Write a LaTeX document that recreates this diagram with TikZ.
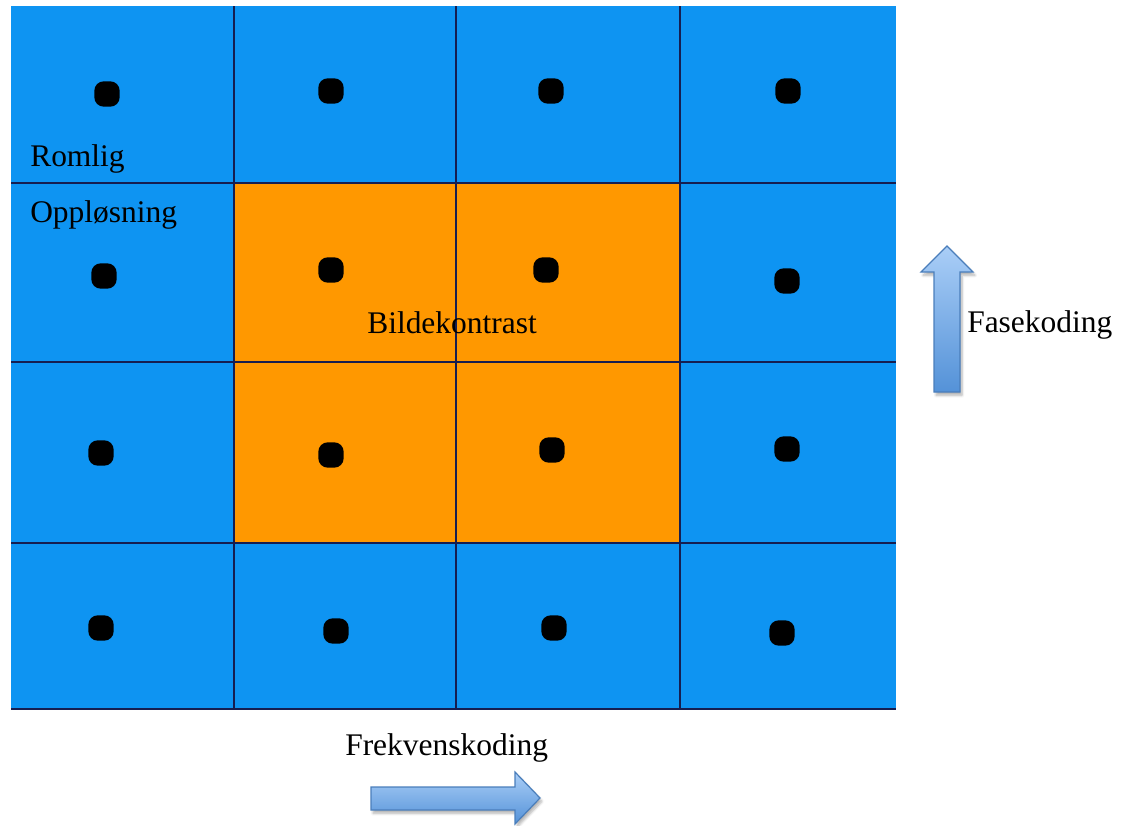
\documentclass[tikz,border=0pt]{standalone}
\usepackage{fontspec}
\setmainfont{Liberation Serif}
\usetikzlibrary{shadows.blur}

\definecolor{cellblue}{RGB}{14,148,242}
\definecolor{cellorange}{RGB}{255,152,0}
\definecolor{gridline}{RGB}{22,30,80}
\definecolor{arrowtop}{RGB}{170,206,247}
\definecolor{arrowbot}{RGB}{84,146,216}
\definecolor{arrowedge}{RGB}{74,126,187}

\tikzset{
  gridrule/.style={draw=gridline, line width=1.9pt},
  dot/.style={rounded corners=7pt, rectangle, fill=black, inner sep=0pt, minimum size=19pt},
  label/.style={font=\fontsize{23.6pt}{28pt}\selectfont, anchor=base west, inner sep=0pt},
  fatarrow/.style={draw=arrowedge, line width=0.9pt, line join=miter,
    top color=arrowtop, bottom color=arrowbot,
    blur shadow={shadow xshift=1.5pt, shadow yshift=-2.5pt, shadow blur steps=6, shadow opacity=30}},
}

\begin{document}
\begin{tikzpicture}[x=0.75pt, y=-0.75pt]
  \useasboundingbox (0,0) rectangle (1131,825);

  % field of view and the central region
  \fill[cellblue] (11,6) rectangle (896,709);
  \fill[cellorange] (234,183) rectangle (680,543);

  % grid of voxels
  \foreach \x in {234,456,680} \draw[gridrule] (\x,6) -- (\x,709);
  \foreach \y in {183,362,543,709} \draw[gridrule] (11,\y) -- (896,\y);

  % one sample point per voxel
  \node[dot] (d11) at (107,94) {};
  \node[dot] (d12) at (331,91) {};
  \node[dot] (d13) at (551,91) {};
  \node[dot] (d14) at (788,91) {};
  \node[dot] (d21) at (104,276) {};
  \node[dot] (d22) at (331,270) {};
  \node[dot] (d23) at (546,270) {};
  \node[dot] (d24) at (787,281) {};
  \node[dot] (d31) at (101,453) {};
  \node[dot] (d32) at (331,455) {};
  \node[dot] (d33) at (552,450) {};
  \node[dot] (d34) at (787,449) {};
  \node[dot] (d41) at (101,628) {};
  \node[dot] (d42) at (336,631) {};
  \node[dot] (d43) at (554,628) {};
  \node[dot] (d44) at (782,633) {};

  % labels
  \node[label] (romlig) at (30,166) {Romlig};
  \node[label] (opplosning) at (30,222) {Oppløsning};
  \node[label] (kontrast) at (367,333) {Bildekontrast};
  \node[label] (fase) at (967,332) {Fasekoding};
  \node[label] (frekvens) at (345,755) {Frekvenskoding};

  % phase-encoding direction
  \path[fatarrow] (934,392) -- (934,272) -- (921,272) -- (947,246)
    -- (973,272) -- (960,272) -- (960,392) -- cycle;

  % frequency-encoding direction
  \path[fatarrow] (371,787) -- (515,787) -- (515,772) -- (540,798)
    -- (515,824) -- (515,810) -- (371,810) -- cycle;
\end{tikzpicture}
\end{document}
